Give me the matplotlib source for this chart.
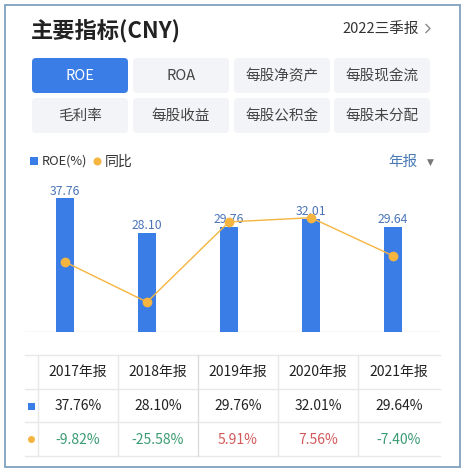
import matplotlib
matplotlib.use("Agg")
import matplotlib.pyplot as plt
from matplotlib.patches import FancyBboxPatch, Rectangle, Circle
import numpy as np

plt.rcParams['font.family'] = ['Noto Sans CJK SC', 'DejaVu Sans']

# ---- data ----
years = ["2017年报", "2018年报", "2019年报", "2020年报", "2021年报"]
roe = [37.76, 28.10, 29.76, 32.01, 29.64]
yoy = [-9.82, -25.58, 5.91, 7.56, -7.40]
buttons = ["ROE", "ROA", "每股净资产", "每股现金流", "毛利率", "每股收益", "每股公积金", "每股未分配"]
title = "主要指标(CNY)"
period = "2022三季报"

BLUE = "#3b7de6"
ORANGE = "#f5b540"
GREEN = "#3a9a72"
RED = "#d3585a"
LABEL_BLUE = "#4a74b8"

W, H = 465, 473
fig = plt.figure(figsize=(W / 100, H / 100), dpi=100)
bg = fig.add_axes([0, 0, 1, 1])
bg.set_xlim(0, W)
bg.set_ylim(H, 0)
bg.axis("off")

# outer frame
bg.add_patch(Rectangle((5, 5), 455, 462, fill=False, edgecolor="#7f9fbf", lw=1.3))

# title
bg.text(31, 31, title, fontsize=16, fontweight="bold", color="#222222", va="center", ha="left")
bg.text(419, 29, period, fontsize=10.5, color="#333333", va="center", ha="right")
bg.plot([426, 430, 426], [24.5, 28.5, 32.5], color="#888888", lw=1)

# buttons
bx = [32, 133, 234, 334]
by = [58, 98]
bw, bh = 96, 35
for i, lab in enumerate(buttons):
    r, c = divmod(i, 4)
    x0, y0 = bx[c], by[r]
    active = i == 0
    bg.add_patch(FancyBboxPatch((x0, y0), bw, bh, boxstyle="round,pad=0,rounding_size=4",
                                facecolor=BLUE if active else "#f3f4f7", edgecolor="none"))
    bg.text(x0 + bw / 2, y0 + bh / 2 + 0.5, lab, fontsize=10.5,
            color="white" if active else "#444444", ha="center", va="center")

# legend
bg.add_patch(Rectangle((30, 157), 8, 8, facecolor=BLUE, edgecolor="none"))
bg.text(42, 161.5, "ROE(%)", fontsize=9.2, color="#333333", va="center", ha="left")
bg.add_patch(Circle((97.5, 161.5), 4, facecolor=ORANGE, edgecolor="none"))
bg.text(105, 161.5, "同比", fontsize=10, color="#333333", va="center", ha="left")
bg.text(388, 162, "年报", fontsize=10.5, color="#4a7ab5", va="center", ha="left")
bg.text(430, 162, "▼", fontsize=6.5, color="#777777", va="center", ha="center",
        family=["DejaVu Sans"])

# chart axes
top_px, bot_px, left_px, right_px = 180, 332, 25, 440
ax = fig.add_axes([left_px / W, (H - bot_px) / H, (right_px - left_px) / W, (bot_px - top_px) / H])
ax.patch.set_alpha(0)
x = np.arange(len(years))
ax.bar(x, roe, width=0.22, color=BLUE, zorder=2)
ymax = 37.76 * (bot_px - top_px) / (bot_px - 198.3)
ax.set_ylim(0, ymax)
ax.set_xlim(-40 / 82, 4 + 47 / 82)
for xi, v in zip(x, roe):
    ax.annotate(f"{v:.2f}", (xi, v), xytext=(0, 0.5), textcoords="offset points",
                ha="center", va="bottom", fontsize=8.8, color=LABEL_BLUE, zorder=3)
ax.axhline(0, color="#dddddd", lw=1, zorder=1)
for s in ax.spines.values():
    s.set_visible(False)
ax.set_xticks([])
ax.set_yticks([])

ax2 = ax.twinx()
scale = 2.545  # px per unit
lo = 7.56 - (bot_px - 217.7) / scale
hi = 7.56 + (217.7 - top_px) / scale
ax2.set_ylim(lo, hi)
ax2.plot(x, yoy, color=ORANGE, lw=1, marker="o", markersize=6, zorder=4)
for s in ax2.spines.values():
    s.set_visible(False)
ax2.set_yticks([])

# table
tl, tr = 25, 440
rows_y = [355, 389, 422, 456]
for yv in rows_y:
    bg.plot([tl, tr], [yv, yv], color="#e8e8e8", lw=1)
for xv in [38, 118, 198, 278, 358]:
    bg.plot([xv, xv], [rows_y[0], rows_y[-1]], color="#e8e8e8" if xv != 198 else "#dcdcdc", lw=1)
col_c = [78, 158, 238, 318, 399]
for i, yr in enumerate(years):
    bg.text(col_c[i], 372, yr, fontsize=10, color="#222222", ha="center", va="center")
    bg.text(col_c[i], 406, f"{roe[i]:.2f}%", fontsize=10, color="#222222", ha="center", va="center")
    bg.text(col_c[i], 439.5, f"{yoy[i]:.2f}%", fontsize=10,
            color=GREEN if yoy[i] < 0 else RED, ha="center", va="center")
bg.add_patch(Rectangle((28, 402.5), 7, 7, facecolor=BLUE, edgecolor="none"))
bg.add_patch(Circle((31.5, 439.5), 3.5, facecolor=ORANGE, edgecolor="none"))

fig.savefig("out.png", dpi=100)
